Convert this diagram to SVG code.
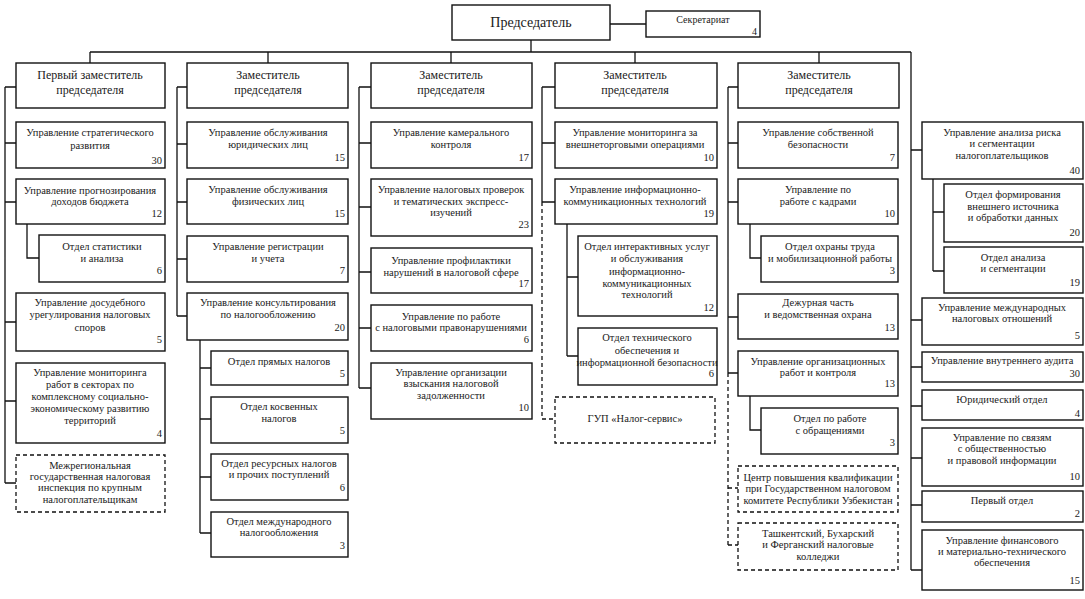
<svg xmlns="http://www.w3.org/2000/svg" width="1085" height="599" viewBox="0 0 1085 599">
<style>
.b{fill:#fff;stroke:#111;stroke-width:1.4}
.d{fill:#fff;stroke:#111;stroke-width:1.3;stroke-dasharray:4 3}
text{font-family:"Liberation Serif","Times New Roman",serif;font-size:10.5px;fill:#1a1a1a}
.t{text-anchor:middle}
.n{text-anchor:end}
.h{font-size:12px}
.c{fill:none;stroke:#111;stroke-width:1.3}
.cd{fill:none;stroke:#111;stroke-width:1.3;stroke-dasharray:4 3}
</style>
<rect width="1085" height="599" fill="#fff"/>
<g id="connectors">
<path class="c" d="M610,24H646 M531,40V52 M90,52H911 M90,52V63 M268,52V63 M451,52V63 M635,52V63 M819,52V63 M911,52V570"/>
<path class="c" d="M5,87V483 M5,87H16 M5,143H16 M5,202H16 M5,322H16 M5,401H16 M5,483H16 M27,224V258H39"/>
<path class="c" d="M177,87V316 M177,87H187 M177,144H187 M177,202H187 M177,259H187 M177,316H187 M200,340V533 M200,368H211 M200,419H211 M200,477H211 M200,533H211"/>
<path class="c" d="M359,87V388 M359,87H371 M359,143H371 M359,207H371 M359,272H371 M359,328H371 M359,388H371"/>
<path class="c" d="M542,87V202 M542,87H555 M542,143H555 M542,202H555 M567,224V356 M567,277H578 M567,356H578"/>
<path class="cd" d="M542,202V419H555"/>
<path class="c" d="M728,87V373 M728,87H738 M728,143H738 M728,202H738 M728,317H738 M728,373H738 M750,224V258H761 M750,396V430H761"/>
<path class="cd" d="M728,373V545 M728,488H738 M728,545H738"/>
<path class="c" d="M911,150H922 M911,320H922 M911,367H922 M911,406H922 M911,458H922 M911,505H922 M911,570H922 M933,179V271 M933,212H944 M933,271H944"/>
</g>
<g id="chair"><rect class="b" x="452" y="5" width="158" height="35"/><text class="t" x="531" y="27" style="font-size:14px">Председатель</text></g>
<g id="secretariat"><rect class="b" x="646" y="11" width="114" height="26"/><text class="t" x="703" y="23" style="font-size:10px">Секретариат</text><text class="n" x="757" y="35" style="font-size:10px">4</text></g>

<g id="dep1"><rect class="b" x="16" y="63" width="149" height="45"/><text class="t h" x="90" y="79">Первый заместитель</text><text class="t h" x="90" y="94">председателя</text></g>
<g id="dep2"><rect class="b" x="187" y="63" width="161" height="45"/><text class="t h" x="268" y="79">Заместитель</text><text class="t h" x="268" y="94">председателя</text></g>
<g id="dep3"><rect class="b" x="371" y="63" width="161" height="45"/><text class="t h" x="451" y="79">Заместитель</text><text class="t h" x="451" y="94">председателя</text></g>
<g id="dep4"><rect class="b" x="555" y="63" width="162" height="45"/><text class="t h" x="635" y="79">Заместитель</text><text class="t h" x="635" y="94">председателя</text></g>
<g id="dep5"><rect class="b" x="738" y="63" width="161" height="45"/><text class="t h" x="819" y="79">Заместитель</text><text class="t h" x="819" y="94">председателя</text></g>

<g id="a1"><rect class="b" x="16" y="122" width="149" height="46"/><text class="t" x="90" y="136">Управление стратегического</text><text class="t" x="90" y="149">развития</text><text class="n" x="162" y="164">30</text></g>
<g id="a2"><rect class="b" x="16" y="179" width="149" height="45"/><text class="t" x="90" y="194">Управление прогнозирования</text><text class="t" x="90" y="205">доходов бюджета</text><text class="n" x="162" y="217">12</text></g>
<g id="a2a"><rect class="b" x="39" y="235" width="126" height="47"/><text class="t" x="102" y="250">Отдел статистики</text><text class="t" x="102" y="262">и анализа</text><text class="n" x="162" y="274">6</text></g>
<g id="a3"><rect class="b" x="16" y="293" width="149" height="58"/><text class="t" x="90" y="306">Управление досудебного</text><text class="t" x="90" y="318">урегулирования налоговых</text><text class="t" x="90" y="331">споров</text><text class="n" x="162" y="343">5</text></g>
<g id="a4"><rect class="b" x="16" y="363" width="149" height="80"/><text class="t" x="90" y="376">Управление мониторинга</text><text class="t" x="90" y="388">работ в секторах по</text><text class="t" x="90" y="400">комплексному социально-</text><text class="t" x="90" y="412">экономическому развитию</text><text class="t" x="90" y="424">территорий</text><text class="n" x="162" y="437">4</text></g>
<g id="a5"><rect class="d" x="16" y="455" width="149" height="57"/><text class="t" x="90" y="469">Межрегиональная</text><text class="t" x="90" y="480">государственная налоговая</text><text class="t" x="90" y="491">инспекция по крупным</text><text class="t" x="90" y="503">налогоплательщикам</text></g>

<g id="b1"><rect class="b" x="187" y="122" width="161" height="46"/><text class="t" x="268" y="136">Управление обслуживания</text><text class="t" x="268" y="148">юридических лиц</text><text class="n" x="345" y="161">15</text></g>
<g id="b2"><rect class="b" x="187" y="179" width="161" height="45"/><text class="t" x="268" y="193">Управление обслуживания</text><text class="t" x="268" y="205">физических лиц</text><text class="n" x="345" y="217">15</text></g>
<g id="b3"><rect class="b" x="187" y="236" width="161" height="46"/><text class="t" x="268" y="250">Управление регистрации</text><text class="t" x="268" y="262">и учета</text><text class="n" x="345" y="274">7</text></g>
<g id="b4"><rect class="b" x="187" y="293" width="161" height="47"/><text class="t" x="268" y="306">Управление консультирования</text><text class="t" x="268" y="318">по налогообложению</text><text class="n" x="345" y="331">20</text></g>
<g id="b4a"><rect class="b" x="211" y="351" width="137" height="34"/><text class="t" x="279" y="365">Отдел прямых налогов</text><text class="n" x="345" y="377">5</text></g>
<g id="b4b"><rect class="b" x="211" y="397" width="137" height="46"/><text class="t" x="279" y="410">Отдел косвенных</text><text class="t" x="279" y="422">налогов</text><text class="n" x="345" y="434">5</text></g>
<g id="b4c"><rect class="b" x="211" y="454" width="137" height="46"/><text class="t" x="279" y="467">Отдел ресурсных налогов</text><text class="t" x="279" y="478">и прочих поступлений</text><text class="n" x="345" y="491">6</text></g>
<g id="b4d"><rect class="b" x="211" y="512" width="137" height="45"/><text class="t" x="279" y="525">Отдел международного</text><text class="t" x="279" y="536">налогообложения</text><text class="n" x="345" y="549">3</text></g>

<g id="c1"><rect class="b" x="371" y="122" width="161" height="46"/><text class="t" x="451" y="136">Управление камерального</text><text class="t" x="451" y="148">контроля</text><text class="n" x="529" y="161">17</text></g>
<g id="c2"><rect class="b" x="371" y="179" width="161" height="57"/><text class="t" x="451" y="193">Управление налоговых проверок</text><text class="t" x="451" y="205">и тематических экспресс-</text><text class="t" x="451" y="216">изучений</text><text class="n" x="529" y="228">23</text></g>
<g id="c3"><rect class="b" x="371" y="248" width="161" height="45"/><text class="t" x="451" y="264">Управление профилактики</text><text class="t" x="451" y="276">нарушений в налоговой сфере</text><text class="n" x="529" y="287">17</text></g>
<g id="c4"><rect class="b" x="371" y="305" width="161" height="46"/><text class="t" x="451" y="320">Управление по работе</text><text class="t" x="451" y="331">с налоговыми правонарушениями</text><text class="n" x="529" y="343">6</text></g>
<g id="c5"><rect class="b" x="371" y="363" width="161" height="56"/><text class="t" x="451" y="376">Управление организации</text><text class="t" x="451" y="387">взыскания налоговой</text><text class="t" x="451" y="399">задолженности</text><text class="n" x="529" y="411">10</text></g>

<g id="d1"><rect class="b" x="555" y="122" width="162" height="46"/><text class="t" x="635" y="136">Управление мониторинга за</text><text class="t" x="635" y="148">внешнеторговыми операциями</text><text class="n" x="714" y="161">10</text></g>
<g id="d2"><rect class="b" x="555" y="179" width="162" height="45"/><text class="t" x="635" y="193">Управление информационно-</text><text class="t" x="635" y="205">коммуникационных технологий</text><text class="n" x="714" y="217">19</text></g>
<g id="d2a"><rect class="b" x="578" y="236" width="139" height="80"/><text class="t" x="647" y="250">Отдел интерактивных услуг</text><text class="t" x="647" y="262">и обслуживания</text><text class="t" x="647" y="275">информационно-</text><text class="t" x="647" y="287">коммуникационных</text><text class="t" x="647" y="298">технологий</text><text class="n" x="714" y="311">12</text></g>
<g id="d2b"><rect class="b" x="578" y="328" width="139" height="57"/><text class="t" x="647" y="341">Отдел технического</text><text class="t" x="647" y="354">обеспечения и</text><text class="t" x="647" y="366">информационной безопасности</text><text class="n" x="714" y="377">6</text></g>
<g id="d3"><rect class="d" x="555" y="397" width="160" height="46"/><text class="t" x="635" y="422">ГУП «Налог-сервис»</text></g>

<g id="e1"><rect class="b" x="738" y="122" width="160" height="46"/><text class="t" x="818" y="136">Управление собственной</text><text class="t" x="818" y="148">безопасности</text><text class="n" x="895" y="161">7</text></g>
<g id="e2"><rect class="b" x="738" y="179" width="160" height="45"/><text class="t" x="818" y="193">Управление по</text><text class="t" x="818" y="205">работе с кадрами</text><text class="n" x="895" y="217">10</text></g>
<g id="e2a"><rect class="b" x="761" y="236" width="137" height="46"/><text class="t" x="830" y="250">Отдел охраны труда</text><text class="t" x="830" y="262">и мобилизационной работы</text><text class="n" x="895" y="274">3</text></g>
<g id="e3"><rect class="b" x="738" y="294" width="160" height="45"/><text class="t" x="818" y="306">Дежурная часть</text><text class="t" x="818" y="318">и ведомственная охрана</text><text class="n" x="895" y="331">13</text></g>
<g id="e4"><rect class="b" x="738" y="351" width="160" height="45"/><text class="t" x="818" y="365">Управление организационных</text><text class="t" x="818" y="376">работ и контроля</text><text class="n" x="895" y="387">13</text></g>
<g id="e4a"><rect class="b" x="761" y="408" width="137" height="46"/><text class="t" x="830" y="422">Отдел по работе</text><text class="t" x="830" y="434">с обращениями</text><text class="n" x="895" y="446">3</text></g>
<g id="e5"><rect class="d" x="738" y="466" width="160" height="46"/><text class="t" x="818" y="481">Центр повышения квалификации</text><text class="t" x="818" y="492">при Государственном налоговом</text><text class="t" x="818" y="504">комитете Республики Узбекистан</text></g>
<g id="e6"><rect class="d" x="738" y="523" width="160" height="47"/><text class="t" x="818" y="537">Ташкентский, Бухарский</text><text class="t" x="818" y="548">и Ферганский налоговые</text><text class="t" x="818" y="560">колледжи</text></g>

<g id="f1"><rect class="b" x="922" y="122" width="161" height="57"/><text class="t" x="1002" y="136">Управление анализа риска</text><text class="t" x="1002" y="147">и сегментации</text><text class="t" x="1002" y="159">налогоплательщиков</text><text class="n" x="1080" y="174">40</text></g>
<g id="f1a"><rect class="b" x="944" y="184" width="139" height="58"/><text class="t" x="1013" y="198">Отдел формирования</text><text class="t" x="1013" y="210">внешнего источника</text><text class="t" x="1013" y="221">и обработки данных</text><text class="n" x="1080" y="236">20</text></g>
<g id="f1b"><rect class="b" x="944" y="247" width="139" height="46"/><text class="t" x="1013" y="261">Отдел анализа</text><text class="t" x="1013" y="272">и сегментации</text><text class="n" x="1080" y="286">19</text></g>
<g id="f2"><rect class="b" x="922" y="298" width="161" height="47"/><text class="t" x="1002" y="311">Управление международных</text><text class="t" x="1002" y="322">налоговых отношений</text><text class="n" x="1080" y="339">5</text></g>
<g id="f3"><rect class="b" x="922" y="352" width="161" height="30"/><text class="t" x="1002" y="364">Управление внутреннего аудита</text><text class="n" x="1080" y="377">30</text></g>
<g id="f4"><rect class="b" x="922" y="390" width="161" height="30"/><text class="t" x="1002" y="403">Юридический отдел</text><text class="n" x="1080" y="417">4</text></g>
<g id="f5"><rect class="b" x="922" y="428" width="161" height="58"/><text class="t" x="1002" y="441">Управление по связям</text><text class="t" x="1002" y="452">с общественностью</text><text class="t" x="1002" y="464">и правовой информации</text><text class="n" x="1080" y="480">10</text></g>
<g id="f6"><rect class="b" x="922" y="491" width="161" height="31"/><text class="t" x="1002" y="504">Первый отдел</text><text class="n" x="1080" y="517">2</text></g>
<g id="f7"><rect class="b" x="922" y="530" width="161" height="60"/><text class="t" x="1002" y="544">Управление финансового</text><text class="t" x="1002" y="555">и материально-технического</text><text class="t" x="1002" y="566">обеспечения</text><text class="n" x="1080" y="584">15</text></g>
</svg>
